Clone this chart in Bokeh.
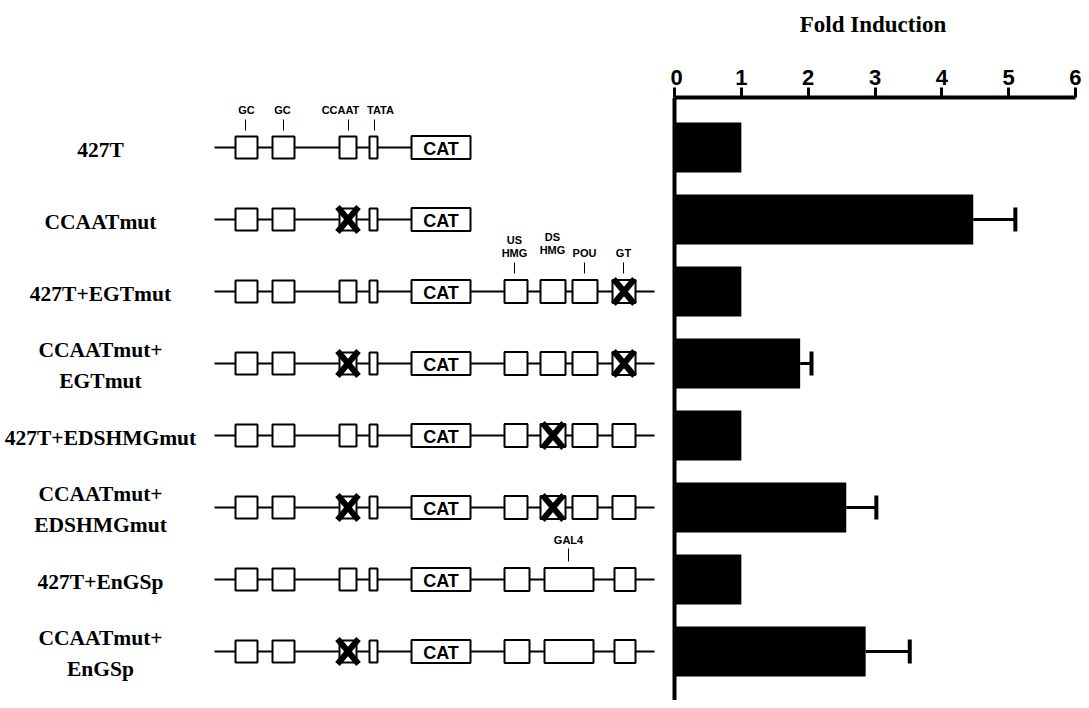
from bokeh.plotting import figure
from bokeh.layouts import row
from bokeh.models import Range1d, LinearAxis, FixedTicker, Span, ColumnDataSource
from bokeh.core.properties import value
from bokeh.embed import file_html
from bokeh.resources import INLINE

# ---------------- data ----------------
constructs = ["427T", "CCAATmut", "427T+EGTmut", "CCAATmut+\nEGTmut",
              "427T+EDSHMGmut", "CCAATmut+\nEDSHMGmut", "427T+EnGSp", "CCAATmut+\nEnGSp"]
fold_induction = [1.0, 4.47, 1.0, 1.88, 1.0, 2.57, 1.0, 2.86]
fold_error = [0.0, 0.63, 0.0, 0.17, 0.0, 0.45, 0.0, 0.66]
ccaat_mutated = [False, True, False, True, False, True, False, True]
enhancer_variant = [None, None, "EGTmut", "EGTmut", "EDSHMGmut", "EDSHMGmut", "EnGSp", "EnGSp"]
axis_ticks = [0, 1, 2, 3, 4, 5, 6]
promoter_sites = ["GC", "GC", "CCAAT", "TATA"]
enhancer_sites = ["US\nHMG", "DS\nHMG", "POU", "GT"]
gal4_site = "GAL4"

# ---------------- layout ----------------
H = 700
LEFT_W = 670            # left panel: page x 8 .. 678
RIGHT_W = 411           # right panel: page x 678 .. 1089
FRAME_TOP = 97
ROW_PITCH = 72.0
ROW0 = 147.0            # figure-pixel y of first row centre
PX_PER_FOLD = 401.0 / 6
U = 1.0 / ROW_PITCH     # row units per pixel

y_top = (FRAME_TOP - ROW0) / ROW_PITCH
y_bot = (H - ROW0) / ROW_PITCH
rows = list(range(len(constructs)))


def base_fig(width, x_range, right_border=0):
    f = figure(width=width, height=H, output_backend="svg", toolbar_location=None,
               x_range=x_range, y_range=Range1d(y_bot, y_top),
               x_axis_type=None, y_axis_type=None,
               min_border_left=0, min_border_right=right_border, min_border_bottom=0,
               min_border_top=FRAME_TOP)
    f.outline_line_color = None
    f.background_fill_color = "white"
    f.border_fill_color = "white"
    f.grid.visible = False
    return f


# ================= right: bar chart =================
pb = base_fig(RIGHT_W, Range1d(-4 / PX_PER_FOLD, 6.0), right_border=6)

pb.hbar(y=rows, left=0, right=fold_induction, height=50 * U,
        fill_color="black", line_color=None)

eb = [(r, v, e) for r, v, e in zip(rows, fold_induction, fold_error) if e > 0]
eb_src = ColumnDataSource(dict(
    y=[r for r, v, e in eb],
    lo=[v for r, v, e in eb],
    hi=[v + e for r, v, e in eb],
    ytop=[r - 12 * U for r, v, e in eb],
    ybot=[r + 12 * U for r, v, e in eb],
))
pb.segment(x0="lo", x1="hi", y0="y", y1="y", source=eb_src, line_color="black", line_width=3)
pb.segment(x0="hi", x1="hi", y0="ytop", y1="ybot", source=eb_src, line_color="black", line_width=4)

ax = LinearAxis(ticker=FixedTicker(ticks=axis_ticks), bounds=(0, 6), axis_label="Fold Induction")
ax.axis_line_width = 4
ax.axis_line_color = "black"
ax.major_tick_line_width = 3
ax.major_tick_out = 10
ax.major_tick_in = 0
ax.minor_tick_line_color = None
ax.major_label_text_font = "Liberation Sans"
ax.major_label_text_font_style = "bold"
ax.major_label_text_font_size = "22px"
ax.major_label_text_color = "black"
ax.major_label_standoff = 3
ax.axis_label_text_font = "Liberation Serif"
ax.axis_label_text_font_style = "bold"
ax.axis_label_text_font_size = "23px"
ax.axis_label_text_color = "black"
ax.axis_label_standoff = 30
pb.add_layout(ax, "above")

pb.add_layout(Span(location=0, dimension="height", line_color="black", line_width=4))

# ================= left: labels + schematics =================
ps = base_fig(LEFT_W, Range1d(8, 8 + LEFT_W))

ps.text(x=[108] * len(rows), y=[r + 2 * U for r in rows], text=constructs,
        text_font=value("Liberation Serif"), text_font_style="bold",
        text_font_size="21.5px", text_align="center", text_baseline="middle",
        text_line_height=1.3, text_color="black")

LINE_START, CAT_L, CAT_R, LINE_END = 222, 419, 478, 662
prom_boxes = [(243, 265), (280, 302), (347, 364), (377, 385)]
enh_boxes = [(512, 535), (548, 573), (580, 605), (620, 643)]
gal_boxes = [(512, 537), (552, 601), (622, 643)]

lx0, lx1, ly = [], [], []
bl, br, bt, bb = [], [], [], []
xm = []
cat_y = []
for r in rows:
    lx0.append(LINE_START); lx1.append(CAT_L); ly.append(r)
    for (a, b) in prom_boxes:
        bl.append(a); br.append(b); bt.append(r - 11 * U); bb.append(r + 11 * U)
    if ccaat_mutated[r]:
        a, b = prom_boxes[2]
        xm.append(((a + b) / 2, r))
    bl.append(CAT_L); br.append(CAT_R); bt.append(r - 11.5 * U); bb.append(r + 11.5 * U)
    cat_y.append(r)
    ev = enhancer_variant[r]
    if ev is not None:
        lx0.append(CAT_R); lx1.append(LINE_END); ly.append(r)
        boxes = gal_boxes if ev == "EnGSp" else enh_boxes
        for (a, b) in boxes:
            bl.append(a); br.append(b); bt.append(r - 11.5 * U); bb.append(r + 11.5 * U)
        if ev == "EGTmut":
            a, b = enh_boxes[3]
            xm.append(((a + b) / 2, r))
        elif ev == "EDSHMGmut":
            a, b = enh_boxes[1]
            xm.append(((a + b) / 2, r))

ps.segment(x0=lx0, x1=lx1, y0=ly, y1=ly, line_color="black", line_width=2)
ps.quad(left=bl, right=br, top=bt, bottom=bb,
        fill_color="white", line_color="black", line_width=2)
ps.text(x=[(CAT_L + CAT_R) / 2] * len(cat_y), y=[c + 1 * U for c in cat_y], text=["CAT"] * len(cat_y),
        text_font=value("Liberation Sans"), text_font_style="bold",
        text_font_size="18px", text_align="center", text_baseline="middle", text_color="black")

xa0, xa1, ya0, ya1 = [], [], [], []
for cx, r in xm:
    xa0 += [cx - 10.5, cx - 10.5]; xa1 += [cx + 10.5, cx + 10.5]
    ya0 += [r - 12.5 * U, r + 12.5 * U]; ya1 += [r + 12.5 * U, r - 12.5 * U]
ps.segment(x0=xa0, x1=xa1, y0=ya0, y1=ya1, line_color="black", line_width=6)

site_font = dict(text_font=value("Liberation Sans"), text_font_style="bold",
                 text_font_size="11px", text_align="center", text_baseline="middle",
                 text_color="black", text_line_height=1.1)
prom_lab_x = [254, 290, 348, 388]
prom_tick_x = [253, 291, 356, 382]
ps.text(x=prom_lab_x, y=[0 - 38 * U] * 4, text=promoter_sites, **site_font)
ps.segment(x0=prom_tick_x, x1=prom_tick_x, y0=[0 - 28 * U] * 4, y1=[0 - 17 * U] * 4,
           line_color="black", line_width=1)

enh_lab_x = [522, 560, 592, 631]
enh_lab_y = [2 - 45 * U, 2 - 48 * U, 2 - 39 * U, 2 - 39 * U]
ps.text(x=enh_lab_x, y=enh_lab_y, text=enhancer_sites, **site_font)
tick_x = [522, 592, 631]
ps.segment(x0=tick_x, x1=tick_x, y0=[2 - 29 * U] * 3, y1=[2 - 18 * U] * 3,
           line_color="black", line_width=1)

ps.text(x=[576], y=[6 - 40 * U], text=[gal4_site], **site_font)
ps.segment(x0=[576], x1=[576], y0=[6 - 31 * U], y1=[6 - 18 * U],
           line_color="black", line_width=1)

layout = row(ps, pb, spacing=0)
open("out.html", "w").write(file_html(layout, INLINE))
